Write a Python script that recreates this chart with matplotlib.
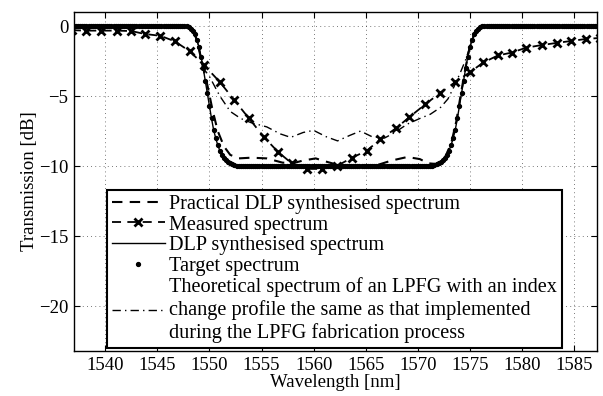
import numpy as np
import matplotlib
matplotlib.use('Agg')
import matplotlib.pyplot as plt

plt.rcParams['font.family'] = ['Liberation Serif', 'DejaVu Serif']
plt.rcParams['mathtext.fontset'] = 'stix'

# target / DLP synthesised spectrum: flat levels and sampled edges
top_level = 0.0
floor_level = -10.0
left_edge_wl = [1547.6, 1547.8, 1548.0, 1548.2, 1548.4, 1548.6, 1548.8, 1549.0,
                1549.2, 1549.4, 1549.6, 1549.8, 1550.0, 1550.2, 1550.4, 1550.6,
                1550.8, 1551.0, 1551.2, 1551.4, 1551.6, 1551.8, 1552.0, 1552.2,
                1552.4, 1552.6, 1552.8, 1553.0]
left_edge_db = [0.0, -0.02, -0.08, -0.18, -0.35, -0.6, -1.0, -1.5,
                -2.2, -3.0, -3.9, -4.8, -5.7, -6.6, -7.4, -8.0,
                -8.5, -8.9, -9.2, -9.4, -9.55, -9.7, -9.8, -9.87,
                -9.92, -9.96, -9.98, -10.0]
right_edge_wl = [1571.0, 1571.2, 1571.4, 1571.6, 1571.8, 1572.0, 1572.2, 1572.4,
                 1572.6, 1572.8, 1573.0, 1573.2, 1573.4, 1573.6, 1573.8, 1574.0,
                 1574.2, 1574.4, 1574.6, 1574.8, 1575.0, 1575.2, 1575.4, 1575.6,
                 1575.8, 1576.0, 1576.2, 1576.4]
right_edge_db = [-10.0, -9.98, -9.96, -9.92, -9.87, -9.8, -9.7, -9.55,
                 -9.4, -9.2, -8.9, -8.5, -8.0, -7.4, -6.6, -5.7,
                 -4.8, -3.9, -3.0, -2.2, -1.5, -1.0, -0.6, -0.35,
                 -0.18, -0.08, -0.02, 0.0]

# practical DLP synthesised spectrum
practical_wl = [1536.5, 1547.6, 1548.4, 1548.8, 1549.3, 1549.8, 1550.3, 1550.8,
                1551.4, 1552.0, 1552.8, 1554.0, 1555.5, 1557.0, 1558.0, 1559.0,
                1560.2, 1561.3, 1562.5, 1564.0, 1566.0, 1567.5, 1569.0, 1570.2,
                1571.0, 1571.8, 1572.6, 1573.2, 1573.7, 1574.1, 1574.5, 1574.9,
                1575.3, 1575.8, 1576.3, 1587.5]
practical_db = [0.0, 0.0, -0.3, -1.0, -2.7, -4.2, -6.0, -7.5,
                -8.6, -9.2, -9.45, -9.4, -9.45, -9.75, -9.8, -9.6,
                -9.45, -9.7, -9.95, -10.0, -9.95, -9.6, -9.35, -9.5,
                -9.8, -9.85, -9.4, -8.4, -6.8, -5.0, -3.3, -1.8,
                -0.8, -0.2, 0.0, 0.0]

# measured spectrum
measured_wl = [1536.8, 1538.2, 1539.6, 1541.1, 1542.5, 1543.8, 1545.3, 1546.7,
               1548.1, 1549.5, 1551.0, 1552.4, 1553.8, 1555.2, 1556.6, 1557.9,
               1559.4, 1560.8, 1562.2, 1563.7, 1565.1, 1566.4, 1567.9, 1569.2,
               1570.7, 1572.1, 1573.6, 1575.0, 1576.3, 1577.7, 1579.0, 1580.4,
               1581.9, 1583.4, 1584.7, 1586.1, 1587.5]
measured_db = [-0.3, -0.33, -0.33, -0.33, -0.36, -0.57, -0.7, -1.1,
               -1.8, -2.8, -4.0, -5.3, -6.6, -7.9, -9.0, -9.8,
               -10.2, -10.2, -10.0, -9.4, -8.9, -8.1, -7.3, -6.5,
               -5.6, -4.8, -4.0, -3.3, -2.6, -2.1, -1.9, -1.55,
               -1.36, -1.2, -1.07, -0.93, -0.85]

# theoretical spectrum of LPFG
theory_wl = [1536.5, 1547.6, 1548.4, 1548.8, 1549.4, 1550.0, 1551.0, 1552.0,
             1553.0, 1554.0, 1555.5, 1556.8, 1557.8, 1559.0, 1560.0, 1561.2,
             1562.3, 1563.5, 1564.5, 1565.6, 1566.8, 1567.8, 1569.0, 1570.2,
             1571.2, 1572.2, 1572.9, 1573.5, 1574.1, 1574.6, 1575.0, 1575.4,
             1575.9, 1576.3, 1587.5]
theory_db = [0.0, 0.0, -0.3, -1.0, -3.0, -3.6, -5.0, -6.1,
             -6.6, -6.9, -7.2, -7.7, -7.95, -7.6, -7.45, -7.9,
             -8.2, -7.8, -7.5, -7.9, -8.0, -7.6, -7.0, -6.6,
             -6.3, -5.8, -5.2, -4.3, -3.3, -2.4, -1.5, -0.7,
             -0.2, 0.0, 0.0]

# build the sampled target curve (0.2 nm steps on the flat parts)
top_left_wl = np.arange(1536.6, 1547.5, 0.2)
floor_wl = np.arange(1553.2, 1570.9, 0.2)
top_right_wl = np.arange(1576.6, 1587.5, 0.2)
target_wl = np.concatenate([top_left_wl, left_edge_wl, floor_wl, right_edge_wl, top_right_wl])
target_db = np.concatenate([np.full(len(top_left_wl), top_level), left_edge_db,
                            np.full(len(floor_wl), floor_level), right_edge_db,
                            np.full(len(top_right_wl), top_level)])

fig = plt.figure(figsize=(6.03, 3.96), dpi=100)
ax = fig.add_axes([0.1227, 0.1136, 0.8673, 0.8561])

ax.plot(practical_wl, practical_db, color='k', lw=1.5, ls=(0, (5, 3.5)),
        label='Practical DLP synthesised spectrum')
ax.plot(measured_wl, measured_db, color='k', lw=1.3, ls=(0, (5, 3.5)),
        marker='x', ms=6, mew=2.0, label='Measured spectrum')
ax.plot(target_wl, target_db, color='k', lw=1.0, label='DLP synthesised spectrum')
ax.plot(target_wl, target_db, color='k', lw=0, marker='o', ms=2.8,
        label='Target spectrum')
ax.plot(theory_wl, theory_db, color='k', lw=1.0, ls=(0, (6, 3, 1, 3)),
        label='Theoretical spectrum of an LPFG with an index\n'
              'change profile the same as that implemented\n'
              'during the LPFG fabrication process')

ax.set_xlim(1537, 1587.2)
ax.set_ylim(-23.2, 1.0)
ax.set_xticks([1540, 1545, 1550, 1555, 1560, 1565, 1570, 1575, 1580, 1585])
ax.set_yticks([-20, -15, -10, -5, 0])
ax.tick_params(direction='in', top=True, right=True, labelsize=13.5, length=4, pad=4)
ax.grid(True, ls=(0, (1, 4)), color='k', lw=0.6, alpha=0.7)
for s in ax.spines.values():
    s.set_linewidth(1.0)

ax.set_xlabel('Wavelength [nm]', fontsize=13.5, labelpad=0)
ax.set_ylabel('Transmission [dB]', fontsize=13.5, labelpad=1)

leg = ax.legend(loc='lower left', bbox_to_anchor=(0.063, 0.009), borderaxespad=0,
                fontsize=14.6, handlelength=2.6, handletextpad=0.2, labelspacing=0.07,
                numpoints=1, fancybox=False, edgecolor='k', framealpha=1,
                borderpad=0.25)
leg.get_frame().set_linewidth(1.5)

fig.savefig('out.png', dpi=100)
